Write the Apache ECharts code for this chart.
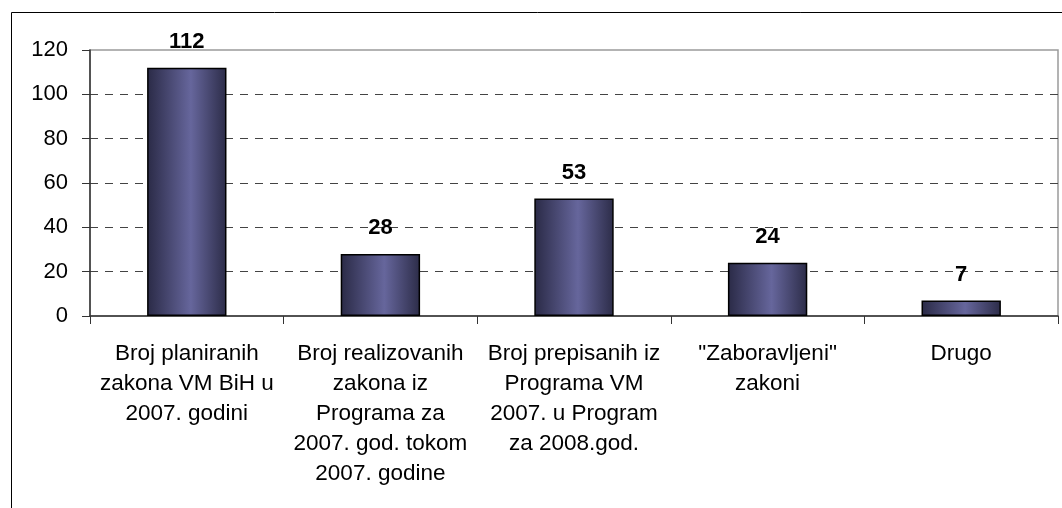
<!DOCTYPE html>
<html><head><meta charset="utf-8">
<script src="https://cdn.jsdelivr.net/npm/echarts@6/dist/echarts.min.js"></script>
<style>html,body{margin:0;padding:0;background:#fff}#c{width:1062px;height:508px}</style>
</head><body><div id="c"></div>
<script>
const categories = [
  "Broj planiranih\nzakona VM BiH u\n2007. godini",
  "Broj realizovanih\nzakona iz\nPrograma za\n2007. god. tokom\n2007. godine",
  "Broj prepisanih iz\nPrograma VM\n2007. u Program\nza 2008.god.",
  "\"Zaboravljeni\"\nzakoni",
  "Drugo"
];
const values = [112, 28, 53, 24, 7];
const yTicks = {min: 0, max: 120, interval: 20};

const chart = echarts.init(document.getElementById('c'));
const barGrad = new echarts.graphic.LinearGradient(0, 0, 1, 0, [
  {offset: 0, color: '#2a2a46'},
  {offset: 0.55, color: '#66669c'},
  {offset: 1, color: '#2c2c48'}
]);
chart.setOption({
  animation: false,
  backgroundColor: '#fff',
  textStyle: {fontFamily: 'Liberation Sans, Arial, sans-serif'},
  graphic: [{
    type: 'rect', left: 9, top: 10, shape: {width: 1100, height: 600},
    style: {fill: 'none', stroke: '#000', lineWidth: 1}, silent: true, z: -1
  }],
  grid: {left: 90, right: 4, top: 50, bottom: 192, show: true, borderColor: '#9a9a9a', borderWidth: 1.5},
  xAxis: {
    type: 'category', data: categories,
    axisLine: {lineStyle: {color: '#333', width: 1.5}},
    axisTick: {show: true, length: 8, lineStyle: {color: '#333'}},
    axisLabel: {color: '#000', fontSize: 22.5, lineHeight: 30, margin: 23, interval: 0, fontFamily: 'Liberation Sans, Arial, sans-serif'}
  },
  yAxis: {
    type: 'value', min: yTicks.min, max: yTicks.max, interval: yTicks.interval,
    axisLine: {show: true, lineStyle: {color: '#333', width: 1.5}},
    axisTick: {show: true, length: 8, lineStyle: {color: '#333'}},
    axisLabel: {color: '#000', fontSize: 22, margin: 22, fontFamily: 'Liberation Sans, Arial, sans-serif'},
    splitLine: {show: true, lineStyle: {type: [8, 7], width: 1.2, color: ['transparent', '#444', '#444', '#444', '#444', '#444', 'transparent']}}
  },
  series: [{
    type: 'bar', data: values, barWidth: '41%',
    itemStyle: {color: barGrad, borderColor: '#000', borderWidth: 1.5},
    label: {show: true, position: 'top', distance: 15, color: '#000', fontWeight: 'bold', fontSize: 22, fontFamily: 'Liberation Sans, Arial, sans-serif'}
  }]
});
</script></body></html>
